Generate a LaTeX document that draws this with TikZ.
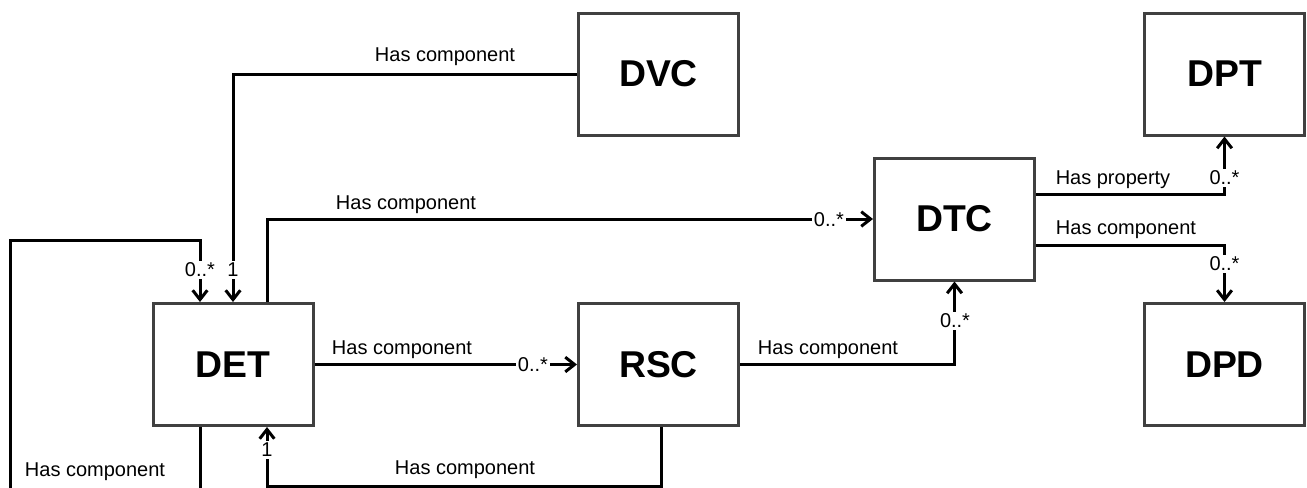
\documentclass[tikz,border=0pt]{standalone}
\usepackage{fontspec}
\setmainfont{Liberation Sans}
\usetikzlibrary{arrows.meta,calc}

\begin{document}
\begin{tikzpicture}[x=0.75pt,y=0.75pt,yscale=-1,xscale=1,
  entity/.style={draw={rgb, 255:red, 64; green, 64; blue, 64 },line width=2.25pt,minimum width=120pt,minimum height=91.5pt,inner sep=0pt,font=\fontsize{28}{32}\selectfont\bfseries},
  conn/.style={color={rgb, 255:red, 0; green, 0; blue, 0 },line width=2.25pt,-{Straight Barb[length=7pt,width=11pt]}},
  rel/.style={inner sep=0.75pt,font=\fontsize{15}{18}\selectfont},
  mult/.style={fill=white,inner sep=1.5pt,font=\fontsize{15}{18}\selectfont}]
\useasboundingbox (0,0) rectangle (1307,487);
\clip (0,0) rectangle (1307,487);

% Entities
\node [entity] (DVC) at (658.5,74) {DVC};
\node [entity] (DPT) at (1224.5,74) {DPT};
\node [entity] (DTC) at (954.5,219) {DTC};
\node [entity] (DET) at (233,364.5) {DET};
\node [entity] (RSC) at (658.5,364.5) {RSC};
\node [entity] (DPD) at (1224.5,364.5) {DPD};
\coordinate (loopL) at (10,240);

%Straight Lines
\draw [conn] (DVC.west) -| (DET.north);
\draw [conn] ($(DET.north)+(34,0)$) |- (DTC.west);
\draw [conn] (DET.east) -- (RSC.west);
\draw [conn] (RSC.east) -| (DTC.south);
\draw [conn] ($(DTC.east)+(0,-25)$) -| (DPT.south);
\draw [conn] ($(DTC.east)+(0,26)$) -| (DPD.north);
\draw [conn] ($(RSC.south)+(2.5,0)$) |- ($(DET.south)+(34,59)$) -- ($(DET.south)+(34,0)$);
\draw [conn] ($(DET.south)+(-33,0)$) |- ($(loopL)+(0,270)$) -- (loopL) -| ($(DET.north)+(-33,0)$);

% Text Node
\node [rel] (r1) at (445,57) {Has component};
\node [rel] (r2) at (406,205) {Has component};
\node [rel] (r3) at (402,350) {Has component};
\node [rel] (r4) at (828,350) {Has component};
\node [rel] (r5) at (1113,180) {Has property};
\node [rel] (r6) at (1126,230) {Has component};
\node [rel] (r7) at (465,470) {Has component};
\node [rel] (r8) at (95,472) {Has component};

% Multiplicities
\node [mult] (m1) at (200,270) {0..*};
\node [mult] (m2) at (233,270) {1};
\node [mult] (m3) at (267,450) {1};
\node [mult] (m4) at (533,364.5) {0..*};
\node [mult] (m5) at (829,219.5) {0..*};
\node [mult] (m6) at (955,321) {0..*};
\node [mult] (m7) at (1224.5,178) {0..*};
\node [mult] (m8) at (1224.5,264) {0..*};

\end{tikzpicture}
\end{document}
